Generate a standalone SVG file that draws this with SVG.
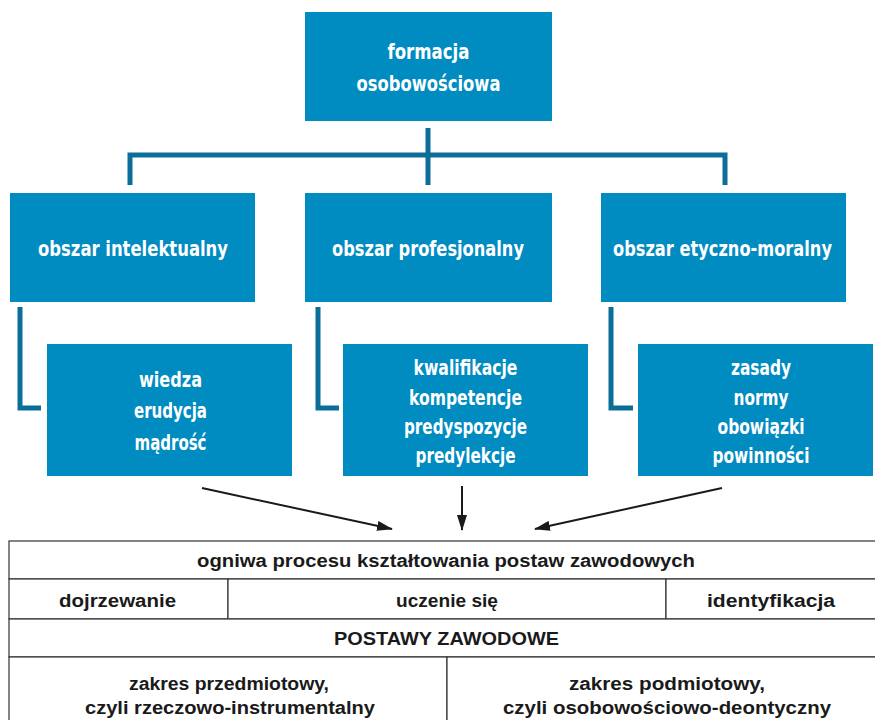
<svg xmlns="http://www.w3.org/2000/svg" width="875" height="720" viewBox="0 0 875 720">
<style>
.box{fill:#008bc1}
.bt{fill:#ffffff;font-family:"Liberation Sans Narrow","DejaVu Sans Condensed","Liberation Sans",sans-serif;font-weight:bold;font-size:22px;text-anchor:middle}
.con{fill:none;stroke:#0a6e99;stroke-width:5}
.arr{stroke:#1a1a1a;stroke-width:2;fill:none;marker-end:url(#ah)}
.cell{fill:#ffffff;stroke:#333333;stroke-width:1.2}
.tt{fill:#1a1a1a;font-family:"Liberation Sans","DejaVu Sans",sans-serif;font-weight:bold;font-size:18px;text-anchor:middle}
</style>
<defs>
<marker id="ah" markerWidth="16" markerHeight="10" refX="15" refY="5" orient="auto" markerUnits="userSpaceOnUse">
<path d="M0,0 L16,5 L0,10 Z" fill="#1a1a1a"/>
</marker>
</defs>
<g id="connectors">
<path class="con" d="M428,128 V185 M130,185 V155 H725 V185"/>
<path class="con" d="M20,307 V408 H41"/>
<path class="con" d="M318,307 V408 H339"/>
<path class="con" d="M611,307 V408 H633"/>
<line class="arr" x1="202" y1="488" x2="392" y2="529"/>
<line class="arr" x1="462" y1="486" x2="462" y2="530"/>
<line class="arr" x1="722" y1="488" x2="535" y2="529"/>
</g>
<g id="formacja">
<rect class="box" x="305" y="12" width="247" height="109"/>
<text class="bt" x="428.5" y="59" textLength="82" lengthAdjust="spacingAndGlyphs">formacja</text>
<text class="bt" x="428.5" y="91" textLength="144" lengthAdjust="spacingAndGlyphs">osobowościowa</text>
</g>
<g id="obszar-intelektualny">
<rect class="box" x="10" y="193" width="245" height="109"/>
<text class="bt" x="133" y="256" textLength="190" lengthAdjust="spacingAndGlyphs">obszar intelektualny</text>
</g>
<g id="obszar-profesjonalny">
<rect class="box" x="305" y="193" width="247" height="109"/>
<text class="bt" x="428" y="256" textLength="192" lengthAdjust="spacingAndGlyphs">obszar profesjonalny</text>
</g>
<g id="obszar-etyczno-moralny">
<rect class="box" x="601" y="193" width="245" height="109"/>
<text class="bt" x="722.5" y="256" textLength="219" lengthAdjust="spacingAndGlyphs">obszar etyczno-moralny</text>
</g>
<g id="wiedza">
<rect class="box" x="47" y="344" width="245" height="132"/>
<text class="bt" x="170.5" y="387" textLength="63" lengthAdjust="spacingAndGlyphs">wiedza</text>
<text class="bt" x="170.5" y="418" textLength="73" lengthAdjust="spacingAndGlyphs">erudycja</text>
<text class="bt" x="170.5" y="450" textLength="72" lengthAdjust="spacingAndGlyphs">mądrość</text>
</g>
<g id="kwalifikacje">
<rect class="box" x="343" y="344" width="245" height="132"/>
<text class="bt" x="465.5" y="375" textLength="104" lengthAdjust="spacingAndGlyphs">kwalifikacje</text>
<text class="bt" x="465.5" y="405" textLength="113" lengthAdjust="spacingAndGlyphs">kompetencje</text>
<text class="bt" x="465.5" y="434" textLength="123" lengthAdjust="spacingAndGlyphs">predyspozycje</text>
<text class="bt" x="465.5" y="463" textLength="100" lengthAdjust="spacingAndGlyphs">predylekcje</text>
</g>
<g id="zasady">
<rect class="box" x="638" y="344" width="235" height="132"/>
<text class="bt" x="761" y="375" textLength="60" lengthAdjust="spacingAndGlyphs">zasady</text>
<text class="bt" x="761" y="405" textLength="55" lengthAdjust="spacingAndGlyphs">normy</text>
<text class="bt" x="761" y="434" textLength="87" lengthAdjust="spacingAndGlyphs">obowiązki</text>
<text class="bt" x="761" y="463" textLength="97" lengthAdjust="spacingAndGlyphs">powinności</text>
</g>
<g id="table">
<rect class="cell" x="9" y="541" width="875" height="38"/>
<text class="tt" x="446" y="567" textLength="498" lengthAdjust="spacingAndGlyphs">ogniwa procesu kształtowania postaw zawodowych</text>
<rect class="cell" x="9" y="579" width="219" height="40"/>
<text class="tt" x="117.5" y="607" textLength="117" lengthAdjust="spacingAndGlyphs">dojrzewanie</text>
<rect class="cell" x="228" y="579" width="438" height="40"/>
<text class="tt" x="447" y="607" textLength="102" lengthAdjust="spacingAndGlyphs">uczenie się</text>
<rect class="cell" x="666" y="579" width="218" height="40"/>
<text class="tt" x="771" y="607" textLength="128" lengthAdjust="spacingAndGlyphs">identyfikacja</text>
<rect class="cell" x="9" y="619" width="875" height="38"/>
<text class="tt" x="446.5" y="645" textLength="225" lengthAdjust="spacingAndGlyphs">POSTAWY ZAWODOWE</text>
<rect class="cell" x="9" y="657" width="438" height="70"/>
<text class="tt" x="229" y="690" textLength="200" lengthAdjust="spacingAndGlyphs">zakres przedmiotowy,</text>
<text class="tt" x="230" y="714" textLength="290" lengthAdjust="spacingAndGlyphs">czyli rzeczowo-instrumentalny</text>
<rect class="cell" x="447" y="657" width="437" height="70"/>
<text class="tt" x="667" y="690" textLength="196" lengthAdjust="spacingAndGlyphs">zakres podmiotowy,</text>
<text class="tt" x="667" y="714" textLength="328" lengthAdjust="spacingAndGlyphs">czyli osobowościowo-deontyczny</text>
</g>
</svg>
